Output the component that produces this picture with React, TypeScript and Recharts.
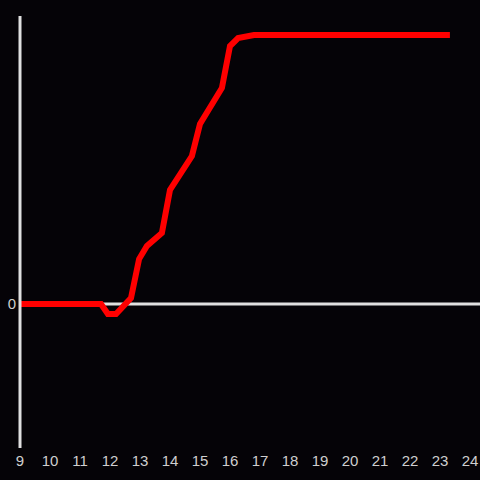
import React from 'react';
import { LineChart, Line, XAxis, YAxis, ReferenceLine } from 'recharts';

// hour of day
const hours = [9, 11.7, 11.93, 12.2, 12.7, 12.97, 13.23, 13.73, 14, 14.73, 15, 15.73, 16, 16.27, 16.8, 23.33];
// cumulative value
const values = [0, 0, -10, -10, 6, 45, 58, 71, 114, 148, 180, 216, 258, 266, 269, 269];
const xTicks = [9, 10, 11, 12, 13, 14, 15, 16, 17, 18, 19, 20, 21, 22, 23, 24];

const data = hours.map((h, i) => ({ hour: h, value: values[i] }));

const App: React.FC = () => {
  return (
    <div style={{ position: 'absolute', left: 0, top: 0, width: 480, height: 480, background: '#050307' }}>
      <LineChart
        width={480}
        height={480}
        data={data}
        margin={{ top: 16, right: 0, left: 0, bottom: 0 }}
        style={{ fontFamily: 'Arial, "Liberation Sans", sans-serif' }}
      >
        <XAxis
          dataKey="hour"
          type="number"
          domain={[9, 24.333]}
          ticks={xTicks}
          axisLine={false}
          tickLine={false}
          tickSize={0}
          tickMargin={7}
          height={32}
          interval={0}
          tick={{ fill: '#cfcfcf', fontSize: 15 }}
        />
        <YAxis
          type="number"
          domain={[-144, 288]}
          ticks={[0]}
          width={20}
          axisLine={{ stroke: '#e0e0e0', strokeWidth: 3 }}
          tickLine={false}
          tickSize={0}
          tickMargin={4}
          tick={{ fill: '#cfcfcf', fontSize: 15 }}
        />
        <ReferenceLine y={0} stroke="#e0e0e0" strokeWidth={3} />
        <Line
          type="linear"
          dataKey="value"
          stroke="#ff0000"
          strokeWidth={6}
          dot={false}
          isAnimationActive={false}
        />
      </LineChart>
    </div>
  );
};

export default App;
